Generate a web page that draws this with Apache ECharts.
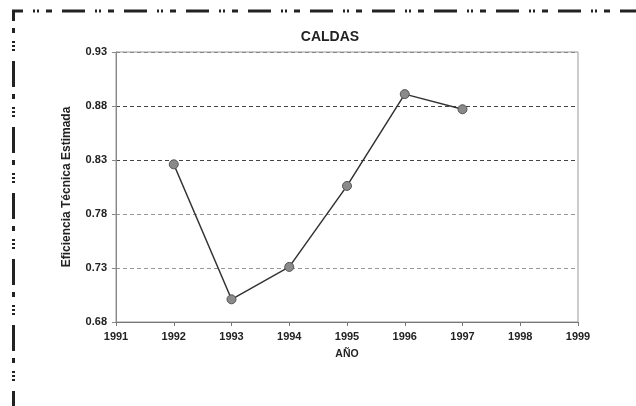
<!DOCTYPE html>
<html><head><meta charset="utf-8">
<script src="https://cdn.jsdelivr.net/npm/echarts@6/dist/echarts.min.js"></script>
<style>html,body{margin:0;padding:0;background:#fff}#c{width:636px;height:406px}</style>
</head><body><div id="c"></div>
<script>
const years = [1992, 1993, 1994, 1995, 1996, 1997];
const efficiency = [0.826, 0.701, 0.731, 0.806, 0.891, 0.877];
const chartTitle = 'CALDAS';
const xName = 'AÑO';
const yName = 'Eficiencia Técnica Estimada';

const chart = echarts.init(document.getElementById('c'));
const font = 'Arial, "Liberation Sans", sans-serif';
chart.setOption({
  animation: false,
  backgroundColor: '#fff',
  title: { text: chartTitle, left: 325, top: 25, textAlign: 'center',
    textStyle: { fontFamily: font, fontSize: 14, fontWeight: 'bold', color: '#222' } },
  grid: { left: 116, right: 58, top: 52, bottom: 84 },
  xAxis: {
    type: 'value', min: 1991, max: 1999, interval: 1,
    name: xName, nameLocation: 'middle', nameGap: 27,
    nameTextStyle: { fontFamily: font, fontSize: 10.5, fontWeight: 'bold', color: '#222' },
    axisLine: { lineStyle: { color: '#777', width: 1 } },
    axisTick: { show: true, length: 4, lineStyle: { color: '#777' } },
    axisLabel: { fontFamily: font, fontSize: 11, fontWeight: 'bold', color: '#222', margin: 9,
      formatter: v => String(v) },
    splitLine: { show: false }
  },
  yAxis: {
    type: 'value', min: 0.68, max: 0.93, interval: 0.05,
    name: yName, nameLocation: 'middle', nameGap: 43, nameRotate: 90,
    nameTextStyle: { fontFamily: font, fontSize: 12, fontWeight: 'bold', color: '#222' },
    axisLine: { show: true, lineStyle: { color: '#888', width: 1 } },
    axisTick: { show: true, length: 4, lineStyle: { color: '#888' } },
    axisLabel: { fontFamily: font, fontSize: 11, fontWeight: 'bold', color: '#222', margin: 9,
      formatter: v => v.toFixed(2) },
    splitLine: { show: true, lineStyle: { type: [4, 3], width: 1,
      color: ['#888', '#999', '#999', '#444', '#444', '#888'] } }
  },
  graphic: [
    { type: 'rect', shape: { x: 116, y: 52, width: 462, height: 270 }, z: 0,
      style: { fill: 'none', stroke: '#999', lineWidth: 1 } },
    { type: 'line', shape: { x1: 12, y1: 11, x2: 640, y2: 11 },
      style: { stroke: '#222', lineWidth: 3, lineDash: [23, 10, 2, 2, 2, 7, 6, 10], lineDashOffset: 12 } },
    { type: 'line', shape: { x1: 13.5, y1: 10, x2: 13.5, y2: 410 },
      style: { stroke: '#222', lineWidth: 3, lineDash: [26, 7, 5, 8, 2, 2, 2, 2, 2, 10], lineDashOffset: 15 } }
  ],
  series: [{
    type: 'line',
    data: years.map((y, i) => [y, efficiency[i]]),
    symbol: 'circle', symbolSize: 9,
    lineStyle: { color: '#333', width: 1.5 },
    itemStyle: { color: '#8a8a8a', borderColor: '#555', borderWidth: 1 },
    z: 5
  }]
});
</script></body></html>
